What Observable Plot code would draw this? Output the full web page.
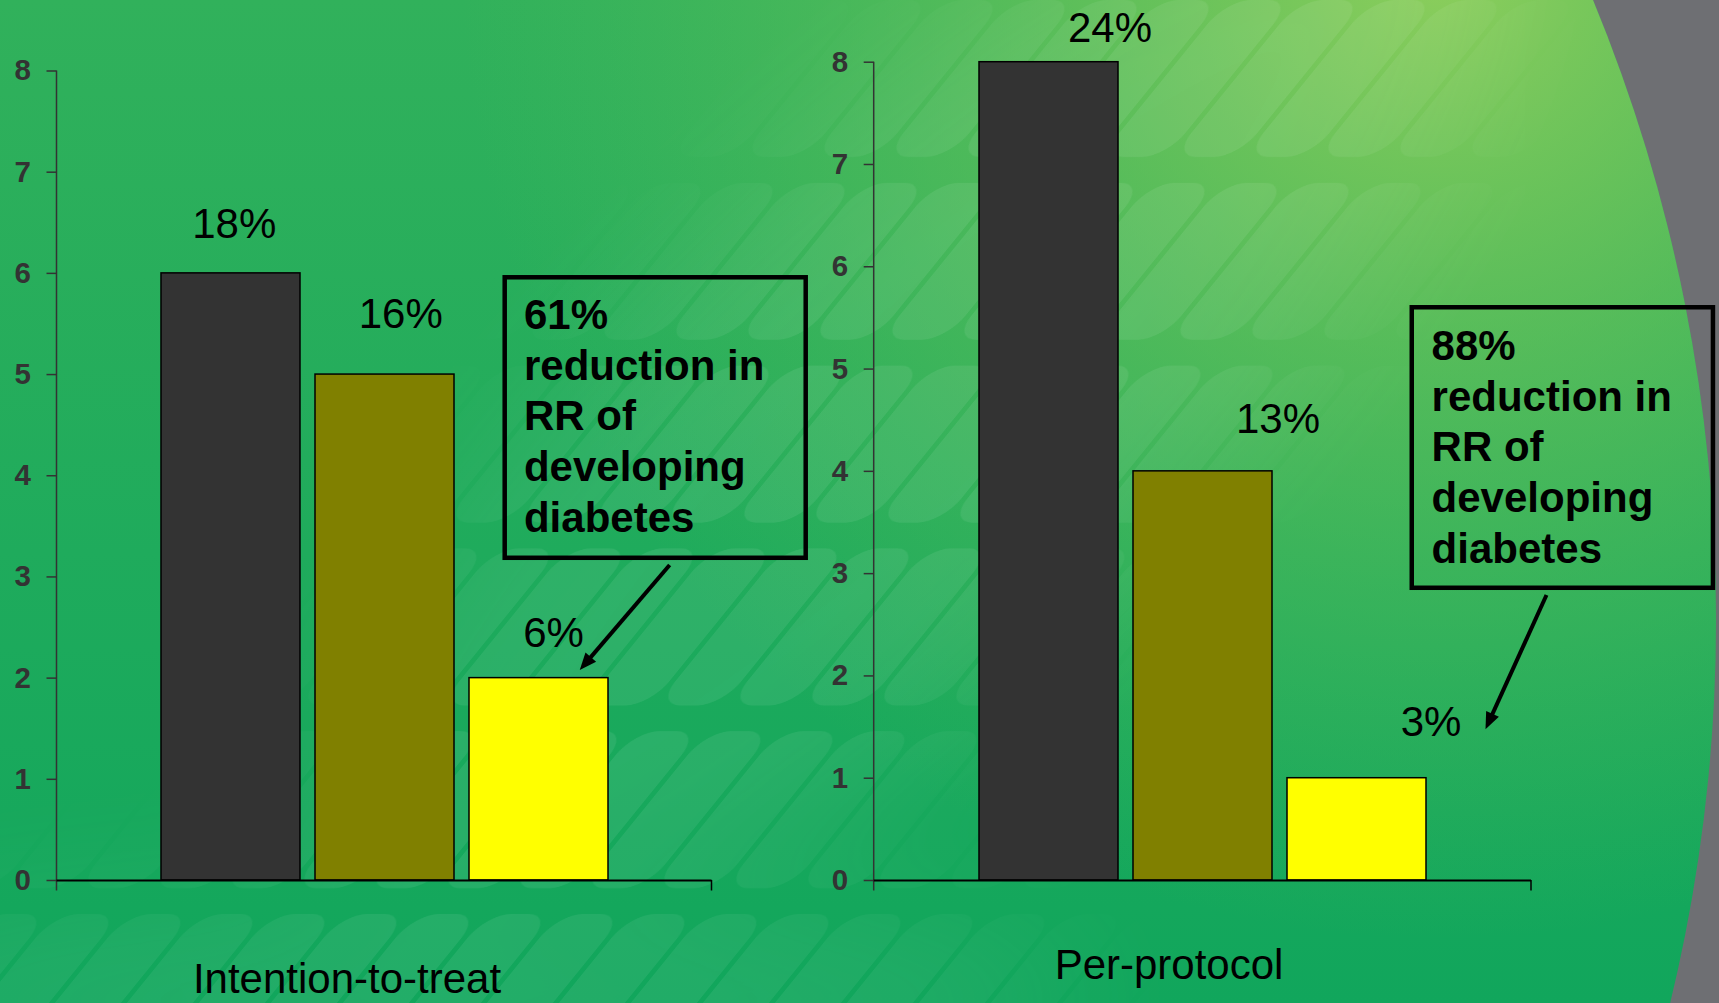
<!DOCTYPE html>
<html>
<head>
<meta charset="utf-8">
<script src="https://cdn.jsdelivr.net/npm/d3@7"></script>
<script src="https://cdn.jsdelivr.net/npm/@observablehq/plot@0.6"></script>
<style>
  html, body { margin: 0; padding: 0; }
  body { width: 1719px; height: 1003px; overflow: hidden; background: #6e6f73; }
  #stage { position: relative; width: 1719px; height: 1003px; }
  #stage > svg { position: absolute; left: 0; top: 0; }
</style>
</head>
<body>
<div id="stage"></div>
<script>
// ---- data ----
const analyses = ["Intention-to-treat", "Per-protocol"];
const groups = ["Group A", "Group B", "Group C"];
const ittValues = [6, 5, 2];
const ppValues = [8, 4, 1];
const ittLabels = ["18%", "16%", "6%"];
const ppLabels = ["24%", "13%", "3%"];
const yTicks = [0, 1, 2, 3, 4, 5, 6, 7, 8];
const calloutText = [
  "61%\nreduction in\nRR of\ndeveloping\ndiabetes",
  "88%\nreduction in\nRR of\ndeveloping\ndiabetes"
];

// ---- page / style ----
const W = 1719, H = 1003, BASE = 880;
const FONT = "'Liberation Sans', Arial, Helvetica, sans-serif";
const barColors = ["#333333", "#808000", "#ffff00"];

// ---- slide background: green gradient sheet with slanted light stripes, grey edge ----
const stage = d3.select("#stage");
const bg = stage.append("svg").attr("width", W).attr("height", H);
const defs = bg.append("defs");

const base = defs.append("linearGradient").attr("id", "baseGrad")
  .attr("x1", 0).attr("y1", 0).attr("x2", 0).attr("y2", 1);
base.append("stop").attr("offset", 0).attr("stop-color", "#31b15b");
base.append("stop").attr("offset", 0.55).attr("stop-color", "#1fab5c");
base.append("stop").attr("offset", 1).attr("stop-color", "#11a65c");

const glow = defs.append("radialGradient").attr("id", "glowGrad")
  .attr("gradientUnits", "userSpaceOnUse")
  .attr("cx", 1440).attr("cy", -40).attr("r", 980);
glow.append("stop").attr("offset", 0).attr("stop-color", "#93d05c").attr("stop-opacity", 0.95);
glow.append("stop").attr("offset", 0.4).attr("stop-color", "#7cc859").attr("stop-opacity", 0.55);
glow.append("stop").attr("offset", 1).attr("stop-color", "#5cbf58").attr("stop-opacity", 0);

const stripes = defs.append("pattern").attr("id", "stripes")
  .attr("patternUnits", "userSpaceOnUse")
  .attr("width", 72).attr("height", 182.8)
  .attr("patternTransform", "skewX(-39)");
stripes.append("rect").attr("x", 3).attr("y", 0).attr("width", 66).attr("height", 157)
  .attr("rx", 24).attr("fill", "#ffffff");

const blur = defs.append("filter").attr("id", "soft")
  .attr("x", "-50%").attr("y", "-50%").attr("width", "200%").attr("height", "200%");
blur.append("feGaussianBlur").attr("stdDeviation", 70);

const mask = defs.append("mask").attr("id", "swath")
  .attr("maskUnits", "userSpaceOnUse").attr("x", 0).attr("y", 0).attr("width", W).attr("height", H);
mask.append("rect").attr("width", W).attr("height", H).attr("fill", "black");
mask.append("ellipse").attr("transform", "translate(900,420) rotate(-44)")
  .attr("rx", 800).attr("ry", 260).attr("fill", "white").attr("filter", "url(#soft)");
mask.append("ellipse").attr("cx", 450).attr("cy", 1000).attr("rx", 640).attr("ry", 110)
  .attr("fill", "white").attr("filter", "url(#soft)");

defs.append("clipPath").attr("id", "sheet")
  .append("circle").attr("cx", 92).attr("cy", 620).attr("r", 1624);

bg.append("rect").attr("width", W).attr("height", H).attr("fill", "#6e6f73");
const sheet = bg.append("g").attr("clip-path", "url(#sheet)");
sheet.append("rect").attr("width", W).attr("height", H).attr("fill", "url(#baseGrad)");
sheet.append("rect").attr("width", W).attr("height", H).attr("fill", "url(#glowGrad)");
sheet.append("rect").attr("width", W).attr("height", H).attr("fill", "url(#stripes)")
  .attr("opacity", 0.075).attr("mask", "url(#swath)");

// ---- chart panels ----
const panels = [
  {
    title: analyses[0], values: ittValues, labels: ittLabels, callout: calloutText[0],
    frame: {left: 56.5, right: 711.5, top: 70.5},
    labelNudge: [[3.2, -35.8], [15.7, -47], [14.5, -31.5]],
    titleNudge: [-37.5, 112.5],
    box: {dx: -33.8, dy: -400.35, w: 301, h: 280.5},
    text: {dx: -15.05, dy: -385.4},
    arrow: {from: [131.15, -112.6], to: [41.25, -7.6]}
  },
  {
    title: analyses[1], values: ppValues, labels: ppLabels, callout: calloutText[1],
    frame: {left: 873.7, right: 1531, top: 61.7},
    labelNudge: [[61, -20], [75, -38], [74, -41.75]],
    titleNudge: [-33.85, 98.3],
    box: {dx: 55.25, dy: -470.45, w: 301.2, h: 280.5},
    text: {dx: 74.6, dy: -454.5},
    arrow: {from: [190, -182.7], to: [129, -48.4]}
  }
];

// Axis lines: grey value axis (running just below zero) and black end tick of the category axis
function axisLines(index, scales, values, dims) {
  const x0 = dims.marginLeft, x1 = dims.width - dims.marginRight;
  const yTop = dims.marginTop, yBase = dims.height - dims.marginBottom;
  const g = d3.create("svg:g");
  g.append("line").attr("x1", x0).attr("x2", x0).attr("y1", yTop).attr("y2", yBase + 10.5)
    .attr("stroke", "#333").attr("stroke-width", 1.5);
  g.append("line").attr("x1", x1).attr("x2", x1).attr("y1", yBase).attr("y2", yBase + 10.5)
    .attr("stroke", "#000").attr("stroke-width", 1.5);
  return g.node();
}

// Callout box and arrow, anchored on the last bar of the panel
function callout(p) {
  return (index, scales) => {
    const g = d3.create("svg:g");
    const last = groups.length - 1;
    const cx = scales.x(groups[last]) + scales.x.bandwidth() / 2;
    const cy = scales.y(p.values[last]);
    g.append("rect")
      .attr("x", cx + p.box.dx).attr("y", cy + p.box.dy)
      .attr("width", p.box.w).attr("height", p.box.h)
      .attr("fill", "none").attr("stroke", "#000").attr("stroke-width", 4.5);
    const [fx, fy] = [cx + p.arrow.from[0], cy + p.arrow.from[1]];
    const [tx, ty] = [cx + p.arrow.to[0], cy + p.arrow.to[1]];
    const len = Math.hypot(tx - fx, ty - fy);
    const ux = (tx - fx) / len, uy = (ty - fy) / len;
    const head = 17, half = 7;
    const bx = tx - ux * head, by = ty - uy * head;
    g.append("line").attr("x1", fx).attr("y1", fy).attr("x2", bx + ux * 2).attr("y2", by + uy * 2)
      .attr("stroke", "#000").attr("stroke-width", 4);
    g.append("polygon")
      .attr("points", [[tx, ty], [bx - uy * half, by + ux * half], [bx + uy * half, by - ux * half]]
        .map(d => d.join(",")).join(" "))
      .attr("fill", "#000");
    return g.node();
  };
}

function drawPanel(p) {
  const data = groups.map((g, i) => ({group: g, value: p.values[i], label: p.labels[i]}));
  const last = data[data.length - 1];
  return Plot.plot({
    width: W,
    height: H,
    marginLeft: p.frame.left,
    marginRight: W - p.frame.right,
    marginTop: p.frame.top,
    marginBottom: H - BASE,
    style: {background: "transparent", fontFamily: FONT, color: "#000", overflow: "visible"},
    x: {domain: groups, paddingInner: 0.1, paddingOuter: 0.675, axis: null},
    y: {domain: [0, 8], axis: null},
    color: {domain: groups, range: barColors},
    marks: [
      axisLines,
      Plot.axisY({
        ticks: yTicks, tickSize: 10, tickPadding: 16, label: null,
        fontSize: 29.5, fontWeight: "bold", color: "#333", strokeWidth: 1.5
      }),
      Plot.barY(data, {x: "group", y: "value", fill: "group", stroke: "#000", strokeWidth: 1.5}),
      Plot.ruleY([0], {stroke: "#000", strokeWidth: 2}),
      ...data.map((d, i) => Plot.text([d], {
        x: "group", y: "value", text: "label",
        dx: p.labelNudge[i][0], dy: p.labelNudge[i][1],
        lineAnchor: "bottom", fontSize: 42, fill: "#000"
      })),
      callout(p),
      Plot.text([{group: last.group, value: last.value, text: p.callout}], {
        x: "group", y: "value", text: "text",
        dx: p.text.dx, dy: p.text.dy,
        textAnchor: "start", lineAnchor: "top", lineHeight: 1.2095,
        fontSize: 42, fontWeight: "bold", fill: "#000"
      }),
      Plot.text([p.title], {
        frameAnchor: "bottom", text: d => d,
        dx: p.titleNudge[0], dy: p.titleNudge[1],
        lineAnchor: "bottom", fontSize: 42, fill: "#000"
      })
    ]
  });
}

for (const p of panels) stage.node().appendChild(drawPanel(p));
</script>
</body>
</html>
